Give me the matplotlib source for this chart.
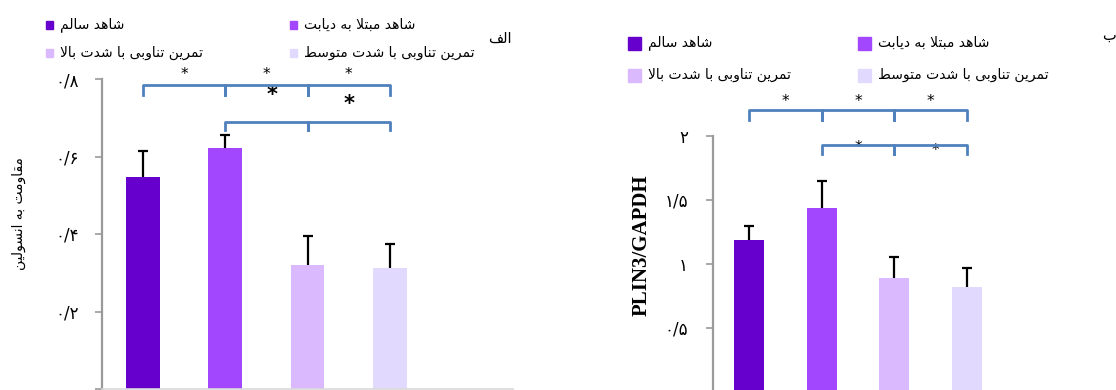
import numpy as np
import matplotlib
matplotlib.use("Agg")
import matplotlib.pyplot as plt
from matplotlib.patches import Rectangle

# groups (Persian)
groups = ["شاهد سالم", "شاهد مبتلا به دیابت", "تمرین تناوبی با شدت بالا", "تمرین تناوبی با شدت متوسط"]
colors = ["#6600cc", "#a347ff", "#dbb9ff", "#e2d9ff"]

# panel a: insulin resistance
ir_mean = [0.546, 0.622, 0.320, 0.312]
ir_err = [0.069, 0.033, 0.074, 0.062]
ir_ticks = [0, 0.2, 0.4, 0.6, 0.8]

# panel b: PLIN3/GAPDH
plin_mean = [1.19, 1.44, 0.89, 0.82]
plin_err = [0.104, 0.21, 0.167, 0.149]
plin_ticks = [0, 0.5, 1, 1.5, 2]

# significance brackets (group index pairs)
sig_top = [(0, 1), (1, 2), (2, 3)]
sig_low = [(1, 2), (2, 3)]

bracket_color = "#4f81bd"
fa_digits = str.maketrans("0123456789.", "۰۱۲۳۴۵۶۷۸۹/")

# minimal Persian shaping (matplotlib has no RTL/joining support)
FORMS = {
    "ا": ("\ufe8d", "\ufe8e", None, None),
    "ب": ("\ufe8f", "\ufe90", "\ufe91", "\ufe92"),
    "ت": ("\ufe95", "\ufe96", "\ufe97", "\ufe98"),
    "د": ("\ufea9", "\ufeaa", None, None),
    "ر": ("\ufead", "\ufeae", None, None),
    "س": ("\ufeb1", "\ufeb2", "\ufeb3", "\ufeb4"),
    "ش": ("\ufeb5", "\ufeb6", "\ufeb7", "\ufeb8"),
    "ط": ("\ufec1", "\ufec2", "\ufec3", "\ufec4"),
    "ف": ("\ufed1", "\ufed2", "\ufed3", "\ufed4"),
    "ق": ("\ufed5", "\ufed6", "\ufed7", "\ufed8"),
    "ل": ("\ufedd", "\ufede", "\ufedf", "\ufee0"),
    "م": ("\ufee1", "\ufee2", "\ufee3", "\ufee4"),
    "ن": ("\ufee5", "\ufee6", "\ufee7", "\ufee8"),
    "ه": ("\ufee9", "\ufeea", "\ufeeb", "\ufeec"),
    "و": ("\ufeed", "\ufeee", None, None),
    "ی": ("\ufeef", "\ufef0", "\ufef3", "\ufef4"),
    "لا": ("\ufefb", "\ufefc", None, None),
}


def shape(s):
    tokens = []
    i = 0
    while i < len(s):
        if s[i] == "ل" and i + 1 < len(s) and s[i + 1] == "ا":
            tokens.append("لا")
            i += 2
        else:
            tokens.append(s[i])
            i += 1

    def dual(t):
        return t in FORMS and FORMS[t][2] is not None

    out = []
    for k, t in enumerate(tokens):
        if t not in FORMS:
            out.append(t)
            continue
        prev = tokens[k - 1] if k > 0 else None
        nxt = tokens[k + 1] if k + 1 < len(tokens) else None
        jp = prev is not None and dual(prev)
        jn = dual(t) and nxt is not None and nxt in FORMS
        iso, fin, ini, med = FORMS[t]
        if jp and jn:
            out.append(med)
        elif jp:
            out.append(fin)
        elif jn:
            out.append(ini)
        else:
            out.append(iso)
    return "".join(reversed(out))


def fa_num(v):
    return ("%g" % v).translate(fa_digits)


def draw_bars(ax, means, errs, ticks, pad):
    x = np.arange(len(means))
    ax.bar(x, means, 0.41, color=colors, zorder=2)
    # upper error only, cap at the top end
    ax.errorbar(x, means, yerr=[np.zeros(len(errs)), errs], fmt="none",
                ecolor="black", elinewidth=1.6, capsize=0, zorder=3)
    ax.plot(x, np.add(means, errs), "_", color="black", ms=7.5, mew=1.6, zorder=3)
    ax.set_xlim(-0.5, 4.5)
    ax.set_ylim(ticks[0], ticks[-1])
    ax.set_yticks(ticks, [fa_num(t) for t in ticks], fontfamily="DejaVu Sans", fontsize=12)
    ax.set_xticks([])
    for s in ["top", "right"]:
        ax.spines[s].set_visible(False)
    ax.spines["left"].set_color("#9a9a9a")
    ax.spines["left"].set_linewidth(1.6)
    ax.spines["bottom"].set_color("#d9d9d9")
    ax.spines["bottom"].set_linewidth(1.2)
    ax.tick_params(axis="y", length=5, width=1.2, color="#9a9a9a", pad=pad)


def draw_brackets(ax, pairs, y, drop, star_y, star_size=11, star_dx=None, star_w="normal"):
    for n, (a, b) in enumerate(pairs):
        ax.plot([a, a, b, b], [y - drop, y, y, y - drop], color=bracket_color,
                lw=2, clip_on=False, zorder=4)
        dx = 0 if star_dx is None else star_dx[n]
        sy = star_y if np.isscalar(star_y) else star_y[n]
        ax.text((a + b) / 2 + dx, sy, "*", ha="center", va="center",
                fontsize=star_size, fontweight=star_w, clip_on=False)


def draw_legend(fig, x_cols, y_rows, sq):
    W, H = fig.get_size_inches() * fig.dpi
    order = [(0, 0), (0, 1), (1, 0), (1, 1)]
    for g, (r, c) in enumerate(order):
        x0 = x_cols[c]
        y0 = y_rows[r]
        fig.patches.append(Rectangle(((x0) / W, 1 - (y0 + sq / 2) / H), sq / W, sq / H,
                                     transform=fig.transFigure, color=colors[g]))
        fig.text((x0 + sq + 7) / W, 1 - y0 / H, shape(groups[g]), ha="left", va="center",
                 fontsize=10, fontfamily="DejaVu Sans")


fig = plt.figure(figsize=(11.16, 3.9), dpi=100)

ax1 = fig.add_axes([102 / 1116, 1 / 390, 411 / 1116, 310 / 390])
draw_bars(ax1, ir_mean, ir_err, ir_ticks, pad=11.5)
draw_brackets(ax1, sig_top, 0.785, 0.026, 0.812, star_size=11)
draw_brackets(ax1, sig_low, 0.689, 0.021, [0.758, 0.735], star_size=15,
              star_dx=[0.07, 0.0], star_w="bold")
fig.text(19 / 1116, 1 - 214 / 390, shape("مقاومت به انسولین"), rotation=90,
         ha="center", va="center", fontsize=10, fontfamily="DejaVu Sans")
fig.text(512 / 1116, 1 - 38 / 390, shape("الف"), ha="right", va="center",
         fontsize=10.5, fontfamily="DejaVu Sans")
draw_legend(fig, [46, 290], [25, 53], 7)

ax2 = fig.add_axes([713 / 1116, -2 / 390, 362.5 / 1116, 256 / 390])
draw_bars(ax2, plin_mean, plin_err, plin_ticks, pad=13)
draw_brackets(ax2, sig_top, 2.203, 0.078, 2.27, star_size=11)
draw_brackets(ax2, sig_low, 1.93, 0.07, [1.91, 1.89], star_size=11, star_dx=[0.0, 0.07])
ax2.set_ylabel("PLIN3/GAPDH", fontfamily="Liberation Serif", fontweight="bold", fontsize=15)
ax2.yaxis.set_label_coords(-(713 - 652) / 362.5, (392 - 245) / 256)
fig.text(1116 / 1116, 1 - 35 / 390, shape("ب"), ha="right", va="center",
         fontsize=10.5, fontfamily="DejaVu Sans")
draw_legend(fig, [628, 858], [43, 75], 13)

plt.savefig("out.png", dpi=100)
